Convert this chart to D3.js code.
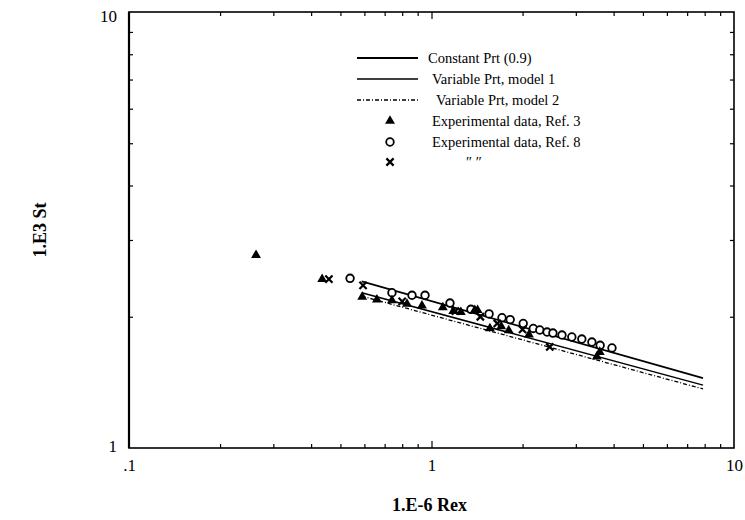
<!DOCTYPE html>
<html><head><meta charset="utf-8">
<script src="https://cdn.jsdelivr.net/npm/d3@7"></script>
<style>body{margin:0;background:#fff}svg{display:block}</style>
</head><body>
<svg id="c" width="745" height="520"></svg>
<script>
// ---- data ----
const xTickValues = [0.1, 1, 10];
const xTickLabels = [".1", "1", "10"];
const yTickValues = [1, 10];
const yTickLabels = ["1", "10"];
const xMinor = [0.2,0.3,0.4,0.5,0.6,0.7,0.8,0.9,2,3,4,5,6,7,8,9];
const yMinor = [2,3,4,5,6,7,8,9];

const lineRex = [0.588, 7.9];
const constPrt = [2.41, 1.447];
const varPrt1 = [2.27, 1.394];
const varPrt2 = [2.23, 1.366];

const ref3Rex = [0.263, 0.435, 0.59, 0.66, 0.74, 0.83, 0.93, 1.09, 1.18, 1.25, 1.39, 1.42, 1.56, 1.7, 1.8, 2.1, 3.52, 3.6];
const ref3St  = [2.77, 2.44, 2.22, 2.19, 2.18, 2.14, 2.12, 2.10, 2.06, 2.05, 2.07, 2.07, 1.88, 1.90, 1.86, 1.82, 1.62, 1.66];

const ref8Rex = [0.538, 0.74, 0.862, 0.952, 1.151, 1.35, 1.55, 1.71, 1.82, 2.01, 2.17, 2.28, 2.41, 2.52, 2.70, 2.91, 3.14, 3.39, 3.61, 3.95];
const ref8St  = [2.45, 2.27, 2.24, 2.24, 2.15, 2.08, 2.03, 1.99, 1.97, 1.93, 1.88, 1.865, 1.845, 1.835, 1.816, 1.797, 1.778, 1.75, 1.72, 1.696];

const ref8bRex = [0.458, 0.594, 0.8, 1.2, 1.45, 1.65, 2.0, 2.46];
const ref8bSt  = [2.44, 2.36, 2.17, 2.06, 2.0, 1.93, 1.87, 1.705];

const legendLabels = ["Constant Prt (0.9)", "Variable Prt, model 1", "Variable Prt, model 2",
  "Experimental data, Ref. 3", "Experimental data, Ref. 8", "\u2033  \u2033"];

// ---- chart ----
const svg = d3.select("#c");
const L = 129, R = 734, T = 12, B = 448;
const x = d3.scaleLog().domain([0.1, 10]).range([L, R]);
const y = d3.scaleLog().domain([1, 10]).range([B, T]);
const serif = "'Liberation Serif','Times New Roman',serif";

// ticks (inward)
function minorAxis(axisFn, scale, vals, size, tr) {
  const g = svg.append("g").attr("transform", tr)
    .call(axisFn(scale).tickValues(vals).tickSize(size).tickFormat(""));
  g.select(".domain").remove();
  g.selectAll(".tick line").attr("stroke", "#000").attr("stroke-width", 1.2);
  return g;
}
minorAxis(d3.axisBottom, x, xMinor, -4, `translate(0,${B})`);
minorAxis(d3.axisBottom, x, [1], -7, `translate(0,${B})`);
minorAxis(d3.axisTop, x, xMinor, -4, `translate(0,${T})`);
minorAxis(d3.axisTop, x, [1], -7, `translate(0,${T})`);
minorAxis(d3.axisLeft, y, yMinor, -4, `translate(${L},0)`);
minorAxis(d3.axisRight, y, yMinor, -4, `translate(${R},0)`);

// frame
svg.append("rect").attr("x", L).attr("y", T).attr("width", R - L).attr("height", B - T)
  .attr("fill", "none").attr("stroke", "#000").attr("stroke-width", 1.6);
svg.append("line").attr("x1", L).attr("x2", L).attr("y1", T).attr("y2", B)
  .attr("stroke", "#000").attr("stroke-width", 2.2);

// tick labels
const xl = svg.append("g").attr("transform", `translate(0,${B})`)
  .call(d3.axisBottom(x).tickValues(xTickValues).tickSize(0).tickPadding(11)
    .tickFormat((d, i) => xTickLabels[i]));
xl.select(".domain").remove();
xl.selectAll("text").attr("font-family", serif).attr("font-size", 17).attr("fill", "#000");

const yl = svg.append("g").attr("transform", `translate(${L},0)`)
  .call(d3.axisLeft(y).tickValues(yTickValues).tickSize(0).tickPadding(12)
    .tickFormat((d, i) => yTickLabels[i]));
yl.select(".domain").remove();
yl.selectAll("text").attr("font-family", serif).attr("font-size", 17).attr("fill", "#000")
  .attr("dy", (d) => d === 10 ? "0.55em" : "0.2em");

// axis titles
svg.append("text").attr("x", (L + R) / 2 - 2).attr("y", 511).attr("text-anchor", "middle")
  .attr("font-family", serif).attr("font-weight", "bold").attr("font-size", 18).text("1.E-6 Rex");
svg.append("text").attr("transform", `translate(46,${(T + B) / 2}) rotate(-90)`)
  .attr("text-anchor", "middle").attr("font-family", serif).attr("font-weight", "bold")
  .attr("font-size", 18).text("1.E3 St");

// lines
const lineGen = d3.line().x(d => x(d[0])).y(d => y(d[1]));
const lineStyles = [
  {vals: constPrt, w: 1.8, dash: null},
  {vals: varPrt1, w: 1.5, dash: null},
  {vals: varPrt2, w: 1.3, dash: "4,2,1,2"}
];
lineStyles.forEach(s => {
  svg.append("path").datum(lineRex.map((r, i) => [r, s.vals[i]]))
    .attr("d", lineGen).attr("fill", "none").attr("stroke", "#000")
    .attr("stroke-width", s.w).attr("stroke-dasharray", s.dash);
});

// markers
const triSym = d3.symbol().type(d3.symbolTriangle).size(42);
function drawTri(g, cx, cy) {
  g.append("path").attr("d", triSym()).attr("transform", `translate(${cx},${cy})`).attr("fill", "#000");
}
function drawCirc(g, cx, cy) {
  g.append("circle").attr("cx", cx).attr("cy", cy).attr("r", 3.8)
    .attr("fill", "#fff").attr("stroke", "#000").attr("stroke-width", 1.8);
}
function drawX(g, cx, cy) {
  const s = 3.6;
  g.append("path").attr("d", `M${cx - s},${cy - s}L${cx + s},${cy + s}M${cx - s},${cy + s}L${cx + s},${cy - s}`)
    .attr("stroke", "#000").attr("stroke-width", 2.2).attr("fill", "none");
}
const pts = svg.append("g");
ref8Rex.forEach((r, i) => drawCirc(pts, x(r), y(ref8St[i])));
ref3Rex.forEach((r, i) => drawTri(pts, x(r), y(ref3St[i])));
ref8bRex.forEach((r, i) => drawX(pts, x(r), y(ref8bSt[i])));

// legend
const lg = svg.append("g");
const rowsY = [58, 79, 100, 121, 142, 162];
const textX = [428, 432, 436, 432, 432, 466];
lineStyles.forEach((s, i) => {
  lg.append("line").attr("x1", 357).attr("x2", 418).attr("y1", rowsY[i]).attr("y2", rowsY[i])
    .attr("stroke", "#000").attr("stroke-width", s.w).attr("stroke-dasharray", s.dash);
});
drawTri(lg, 390, rowsY[3]);
drawCirc(lg, 390, rowsY[4]);
drawX(lg, 390, rowsY[5]);
legendLabels.forEach((t, i) => {
  lg.append("text").attr("x", textX[i]).attr("y", rowsY[i]).attr("dy", "0.35em")
    .attr("font-family", serif).attr("font-size", 14.5).text(t);
});
</script>
</body></html>
